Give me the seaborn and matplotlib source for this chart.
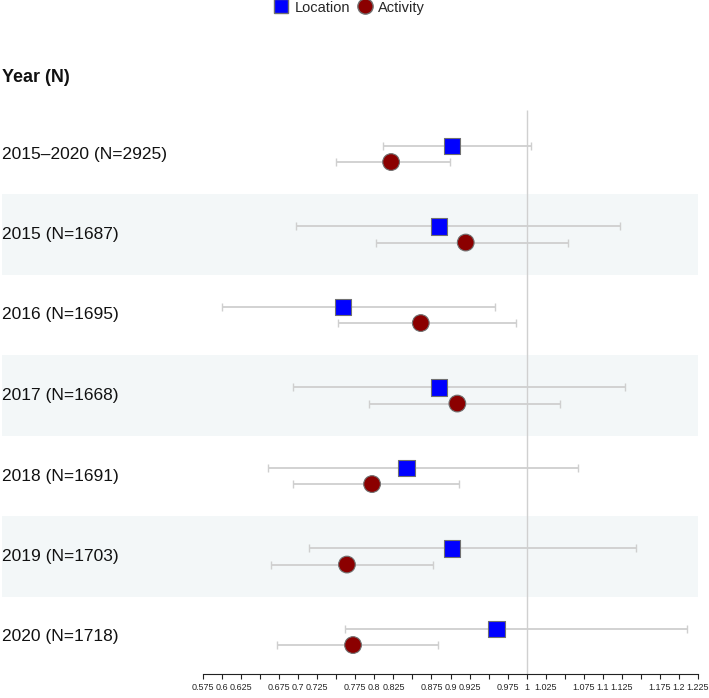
import numpy as np
import pandas as pd
import matplotlib
matplotlib.use("Agg")
import matplotlib.pyplot as plt
import matplotlib.transforms as mtransforms
from matplotlib.lines import Line2D
import seaborn as sns

# values
labels = ["2015\u20132020 (N=2925)", "2015 (N=1687)", "2016 (N=1695)", "2017 (N=1668)",
          "2018 (N=1691)", "2019 (N=1703)", "2020 (N=1718)"]
loc_est = [0.902, 0.885, 0.759, 0.885, 0.842, 0.902, 0.960]
loc_lo = [0.811, 0.697, 0.600, 0.693, 0.660, 0.714, 0.761]
loc_hi = [1.006, 1.123, 0.958, 1.129, 1.067, 1.144, 1.211]
act_est = [0.822, 0.920, 0.861, 0.909, 0.797, 0.764, 0.772]
act_lo = [0.750, 0.802, 0.752, 0.793, 0.693, 0.664, 0.672]
act_hi = [0.899, 1.054, 0.986, 1.044, 0.911, 0.877, 0.884]
tick_vals = np.round(np.arange(0.575, 1.2251, 0.025), 3)
hidden_ticks = [0.65, 0.75, 0.85, 0.95, 1.05, 1.15]

rows = []
for i, lab in enumerate(labels):
    rows.append(dict(label=lab, measure="Location", est=loc_est[i], lo=loc_lo[i], hi=loc_hi[i], y=i - 0.1))
    rows.append(dict(label=lab, measure="Activity", est=act_est[i], lo=act_lo[i], hi=act_hi[i], y=i + 0.1))
df = pd.DataFrame(rows)

sns.set_style("white")
plt.rcParams["font.family"] = ["Liberation Sans", "DejaVu Sans"]

W, H = 709, 698
fig = plt.figure(figsize=(W / 100, H / 100), dpi=100)
ax_left, ax_right = 2 / W, 698 / W
ax_bottom, ax_top = (H - 674) / H, (H - 30) / H
ax = fig.add_axes([ax_left, ax_bottom, ax_right - ax_left, ax_top - ax_bottom])

# x scale: 0.575 at 203px, 1.225 at 698px
ppu = (698 - 203) / 0.65
ax.set_xlim(0.575 - (203 - 2) / ppu, 1.225)
ax.set_ylim((674 - 154) / 80.5, (30 - 154) / 80.5)

# alternating bands
for i in range(len(labels)):
    if i % 2 == 1:
        ax.axhspan(i - 0.5, i + 0.5, color="#f3f7f8", zorder=0, lw=0)

# reference line
ax.vlines(1.0, -0.55, (674 - 154) / 80.5, color="#d0d0d0", lw=1, zorder=1)

# confidence intervals
ax.errorbar(df["est"], df["y"], xerr=[df["est"] - df["lo"], df["hi"] - df["est"]],
            fmt="none", ecolor="#cfcfcf", elinewidth=1.3, capsize=2.6, capthick=1, zorder=2)

palette = {"Location": "#0000ff", "Activity": "#8b0000"}
markers = {"Location": "s", "Activity": "o"}
sns.scatterplot(data=df, x="est", y="y", hue="measure", style="measure",
                palette=palette, markers=markers, s=145, edgecolor="#707070",
                linewidth=0.8, legend=False, ax=ax, zorder=3)

# row labels
trans = mtransforms.blended_transform_factory(ax.transAxes, ax.transData)
for i, lab in enumerate(labels):
    ax.text(0.0, i, lab, transform=trans, ha="left", va="center", fontsize=12.5, color="#111111")
fig.text(2 / W, 1 - 77 / H, "Year (N)", ha="left", va="center", fontsize=13,
         fontweight="bold", color="#111111")

# axis styling
ax.set_xlabel("")
ax.set_ylabel("")
ax.set_yticks([])
ax.set_xticks(tick_vals)
ax.set_xticklabels(["" if any(abs(v - h) < 1e-6 for h in hidden_ticks) else f"{v:g}" for v in tick_vals],
                   fontsize=6.5)
ax.tick_params(axis="x", direction="out", length=3.8, width=0.8, color="#222222", pad=2.5,
               bottom=True)
for side in ["left", "right", "top"]:
    ax.spines[side].set_visible(False)
ax.spines["bottom"].set_bounds(0.575, 1.225)
ax.spines["bottom"].set_color("#222222")
ax.spines["bottom"].set_linewidth(0.8)

handles = [
    Line2D([], [], marker="s", ls="none", markerfacecolor="#0000ff", markeredgecolor="#707070",
           markersize=10, label="Location"),
    Line2D([], [], marker="o", ls="none", markerfacecolor="#8b0000", markeredgecolor="#707070",
           markersize=11, label="Activity"),
]
fig.legend(handles=handles, loc="upper center", bbox_to_anchor=(0.492, 1.018), ncol=2,
           frameon=False, fontsize=10.5, handletextpad=0.3, columnspacing=0.45, handlelength=1.2)

fig.savefig("out.png", dpi=100)
